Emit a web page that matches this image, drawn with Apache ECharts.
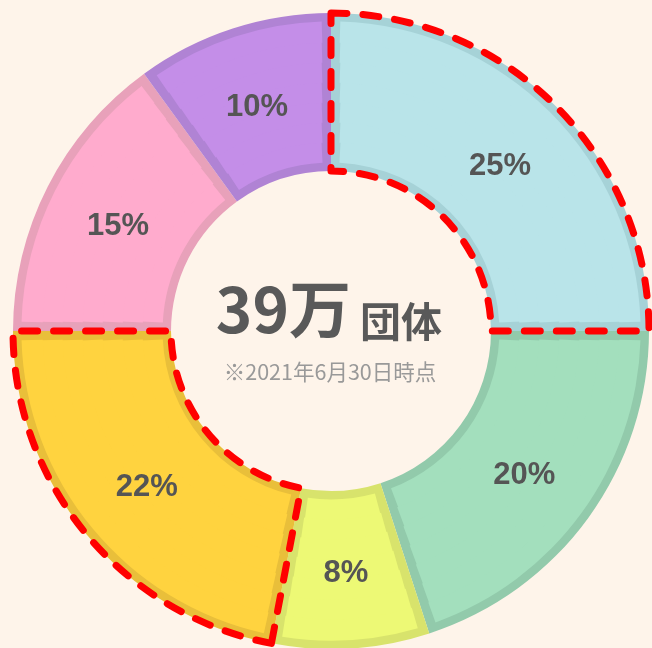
<!DOCTYPE html>
<html>
<head>
<meta charset="utf-8">
<script src="https://cdn.jsdelivr.net/npm/echarts@6/dist/echarts.min.js"></script>
<style>
html,body{margin:0;padding:0;background:#fef4ea;}
#c{width:652px;height:648px;}
</style>
</head>
<body>
<div id="c"></div>
<script>
// ---- data ----
const categories = ['A', 'B', 'C', 'D', 'E', 'F'];
const values = [25, 20, 8, 22, 15, 10];
const fillColors = ['#b9e4e9', '#a3dfbd', '#edf975', '#ffd33f', '#ffabcd', '#c48ee8'];
const borderColors = ['#a6d2d7', '#92caab', '#d8e36c', '#e9bf3a', '#e8a1ba', '#b083d4'];
const outlined = [true, false, false, true, false, false];
const totalText = '39万';
const unitText = '団体';
const noteText = '※2021年6月30日時点';

// ---- layout ----
const center = [331, 331];
const rIn = 160, rOut = 318, bw = 9;

const chart = echarts.init(document.getElementById('c'), null, {renderer: 'canvas'});

const series = [];
// base layer (border colour)
series.push({
  type: 'pie', radius: [rIn, rOut], center: center, startAngle: 90, clockwise: true,
  silent: true, label: {show: false}, labelLine: {show: false},
  data: categories.map((c, i) => ({name: c, value: values[i], itemStyle: {color: borderColors[i]}}))
});
// fill layer as concentric rings so the inset border keeps a constant width
const ringStep = 20;
for (let r0 = rIn + bw; r0 < rOut - bw - 0.1; r0 += ringStep) {
  const r1 = Math.min(r0 + ringStep, rOut - bw);
  const rm = (r0 + r1) / 2;
  const pad = (2 * bw / rm) * 180 / Math.PI;
  series.push({
    type: 'pie', radius: [r0 - 0.6, r1 + 0.6], center: center, startAngle: 90, clockwise: true,
    padAngle: pad, silent: true, label: {show: false}, labelLine: {show: false},
    data: categories.map((c, i) => ({name: c, value: values[i], itemStyle: {color: fillColors[i]}}))
  });
}
// outline layer
series.push({
  type: 'pie', radius: [rIn, rOut], center: center, startAngle: 90, clockwise: true,
  silent: true, labelLine: {show: false}, label: {show: false},
  data: categories.map((c, i) => ({
    name: c, value: values[i],
    itemStyle: outlined[i]
      ? {color: 'rgba(0,0,0,0)', borderColor: '#ff0000', borderWidth: 7, borderType: [16, 16], borderCap: 'round', borderJoin: 'round'}
      : {color: 'rgba(0,0,0,0)', borderWidth: 0}
  }))
});
// labels layer
series.push({
  type: 'pie', radius: [rIn - 4, rOut - 2], center: center, startAngle: 90, clockwise: true,
  silent: true, labelLine: {show: false},
  itemStyle: {color: 'rgba(0,0,0,0)', borderWidth: 0},
  label: {
    show: true, position: 'inside', formatter: p => p.value + '%', offset: [0, 4],
    fontFamily: '"Liberation Sans", Arial, sans-serif', fontWeight: 'bold', fontSize: 31, color: '#555555'
  },
  data: categories.map((c, i) => ({name: c, value: values[i]}))
});

chart.setOption({
  backgroundColor: '#fef4ea',
  animation: false,
  series: series,
  graphic: [
    {type: 'text', x: 351, y: 309, silent: true,
     style: {text: totalText, fontFamily: '"Noto Sans CJK JP", sans-serif', fontWeight: 'bold', fontSize: 62,
             fill: '#595959', align: 'right', verticalAlign: 'middle'}},
    {type: 'text', x: 360, y: 321, silent: true,
     style: {text: unitText, fontFamily: '"Noto Sans CJK JP", sans-serif', fontWeight: 'bold', fontSize: 41,
             fill: '#595959', align: 'left', verticalAlign: 'middle'}},
    {type: 'text', x: 330, y: 372, silent: true,
     style: {text: noteText, fontFamily: '"Noto Sans CJK JP", sans-serif', fontWeight: 'normal', fontSize: 21.5,
             fill: '#999999', align: 'center', verticalAlign: 'middle'}}
  ]
});
</script>
</body>
</html>
